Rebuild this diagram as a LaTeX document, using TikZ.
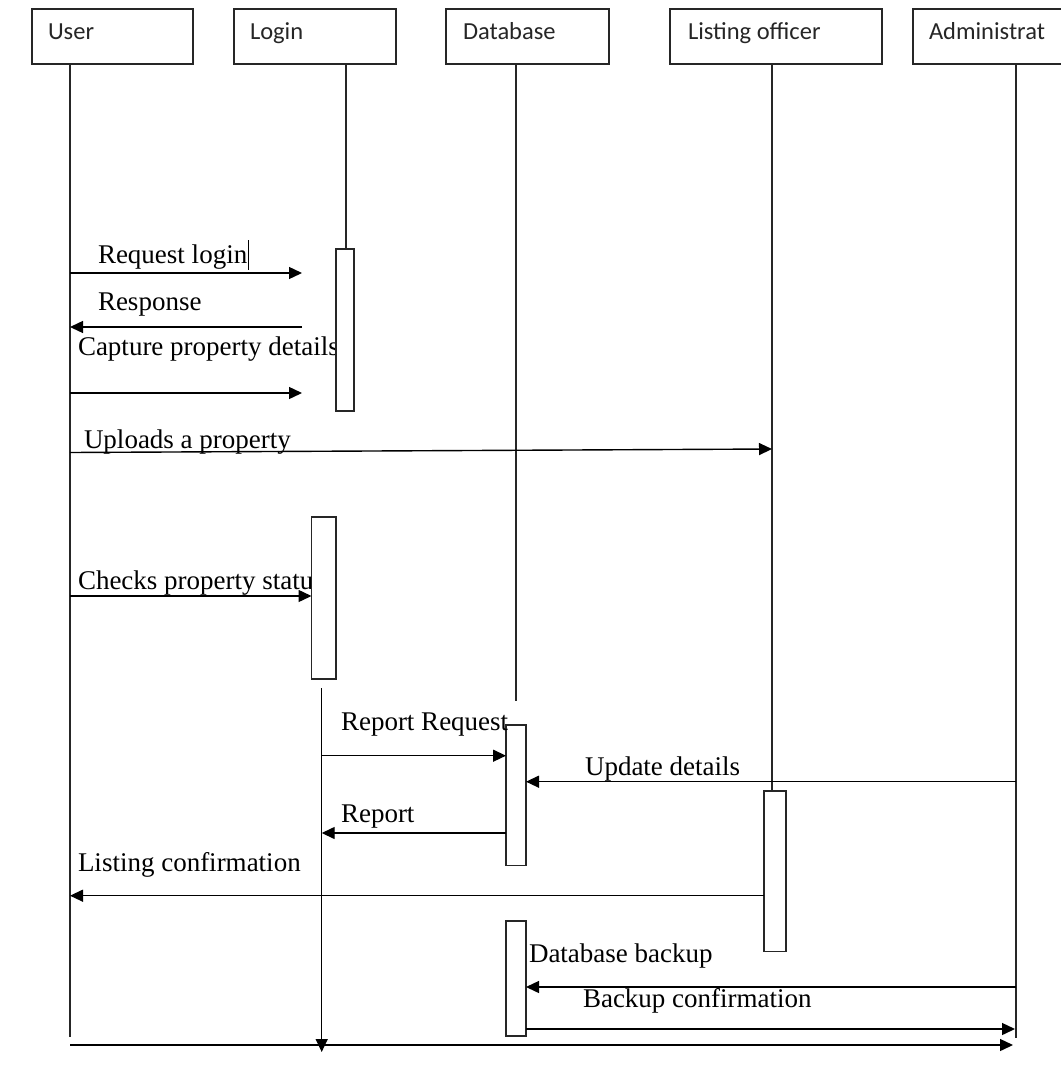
\documentclass[tikz,border=0pt]{standalone}
\usepackage{fontspec}
\usetikzlibrary{arrows.meta}
\newfontfamily\msgfont{Liberation Serif}
\newfontfamily\headfont{Carlito}
\begin{document}
\begin{tikzpicture}[x=1pt,y=-1pt,
  every node/.style={inner sep=0pt, outer sep=0pt},
  headbox/.style={draw=black!85, line width=1.5pt, fill=white, minimum height=55pt},
  headtxt/.style={anchor=base west, font=\headfont\fontsize{24.5}{28}\selectfont, text=black!85},
  life/.style={draw=black!85, line width=1.4pt},
  act/.style={draw=black!85, line width=1.4pt, fill=white},
  msg/.style={draw=black, line width=1.4pt, -{Triangle[length=13pt,width=12pt]}},
  lbl/.style={anchor=base west, font=\msgfont\fontsize{27}{30}\selectfont, text=black}
]
\useasboundingbox (0,0) rectangle (1060,1065);
\fill[white] (0,0) rectangle (1060,1065);

% participant heads
\node[headbox, minimum width=161pt] (usr) at (112.5,36.5) {};
\node[headbox, minimum width=162pt] (lgn) at (315,36.5) {};
\node[headbox, minimum width=163pt] (dbs) at (527.5,36.5) {};
\node[headbox, minimum width=212pt] (lof) at (776,36.5) {};
\node[headbox, minimum width=157pt] (adm) at (991.5,36.5) {};
\node[headtxt] (usrT) at (48,40) {User};
\node[headtxt] (lgnT) at (250,40) {Login};
\node[headtxt] (dbsT) at (463,40) {Database};
\node[headtxt] (lofT) at (688,40) {Listing officer};
\node[headtxt] (admT) at (929,40) {Administrat};

% lifeline end points
\coordinate (uTop) at (70,64);    \coordinate (uBot) at (70,1037);
\coordinate (lTop) at (346,64);   \coordinate (lMid) at (346,249);
\coordinate (l2Top) at (321.7,688); \coordinate (l2Bot) at (321.7,1052);
\coordinate (dTop) at (516,64);   \coordinate (dBot) at (516,701);
\coordinate (oTop) at (772,64);
\coordinate (aTop) at (1016,64);  \coordinate (aBot) at (1016,1038);

% activation bars on the Database and Listing officer lines
\node[act, minimum width=20pt, minimum height=140.5pt] (da1) at (516,795.25) {};
\node[act, minimum width=22pt, minimum height=160.5pt] (oa1) at (775,871.25) {};
\node[act, minimum width=20pt, minimum height=115pt] (da2) at (516,978.5) {};

% lifelines
\draw[life] (uTop) -- (uBot);
\draw[life] (lTop) -- (lMid);
\draw[life] (dTop) -- (dBot);
\draw[life] (oTop) -- (oTop |- oa1.north);
\draw[life] (aTop) -- (aBot);
\draw[msg] (l2Top) -- (l2Bot);

% message end points
\coordinate (m1a) at (70,273);  \coordinate (m1b) at (302,273);
\coordinate (m2a) at (302,327); \coordinate (m2b) at (70,327);
\coordinate (m3a) at (70,393);  \coordinate (m3b) at (302,393);
\coordinate (m4a) at (70,452.5); \coordinate (m4b) at (772,449);
\coordinate (m5a) at (70,596);  \coordinate (m5b) at (311.5,596);
\coordinate (m13a) at (70,1045); \coordinate (m13b) at (1013,1045);

% message labels
\node[lbl] (t1) at (98,263) {Request login};
\node[lbl] (t2) at (98,310) {Response};
\node[lbl] (t3) at (78,355) {Capture property details};
\node[lbl] (t4) at (84,448) {Uploads a property};
\node[lbl] (t5) at (78,589) {Checks property statu};
\node[lbl] (t6) at (341,730) {Report Request};
\node[lbl] (t7) at (585,775) {Update details};
\node[lbl] (t8) at (341,822) {Report};
\node[lbl] (t9) at (78,871) {Listing confirmation};
\node[lbl] (t10) at (529,962) {Database backup};
\node[lbl] (t11) at (583,1007) {Backup confirmation};

% activation bars on the Login line, laid over the labels
\node[act, minimum width=18pt, minimum height=162pt] (la1) at (345,330) {};
\node[act, minimum width=24.5pt, minimum height=162pt] (la2) at (323.75,598) {};

% messages
\draw[msg] (m1a) -- (m1b);
\draw[msg] (m2a) -- (m2b);
\draw[msg] (m3a) -- (m3b);
\draw[msg] (m4a) -- (m4b);
\draw[msg] (m5a) -- (m5b);
\draw[msg] (l2Top |- 0,755.7) -- (da1.west |- 0,755.7);
\draw[msg] (aTop |- 0,781.7) -- (da1.east |- 0,781.7);
\draw[msg] (da1.west |- 0,833) -- (l2Top |- 0,833);
\draw[msg] (oa1.west |- 0,895.7) -- (uTop |- 0,895.7);
\draw[msg] (aTop |- 0,987) -- (da2.east |- 0,987);
\draw[msg] (da2.east |- 0,1029) -- (1015,1029);
\draw[msg] (m13a) -- (m13b);

% text cursor after the first label
\coordinate (curA) at (248,240); \coordinate (curB) at (248,270);
\draw[line width=1pt] (curA) -- (curB);
\end{tikzpicture}
\end{document}
